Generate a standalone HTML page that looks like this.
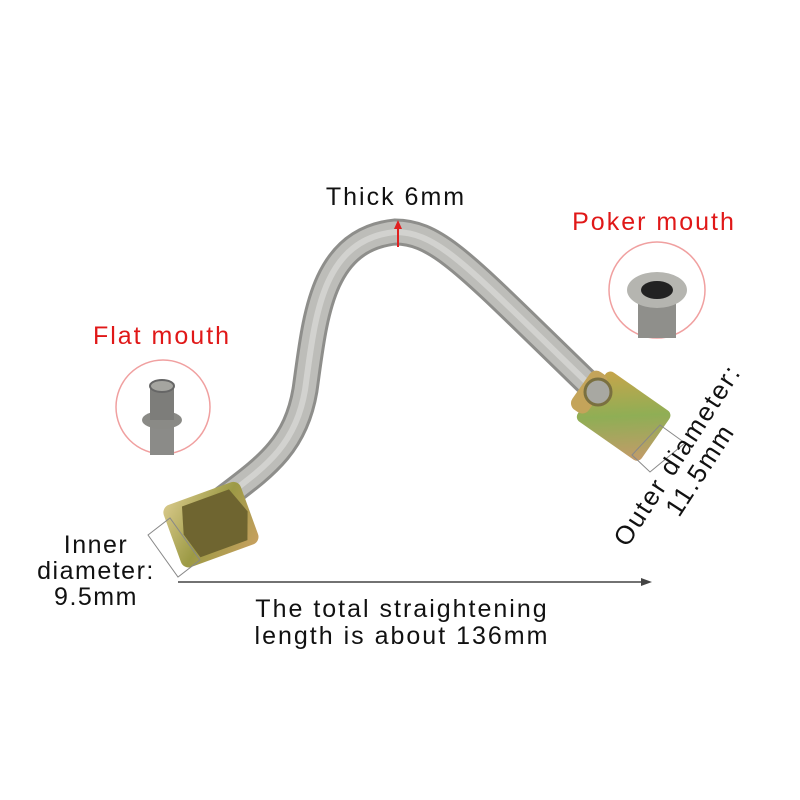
<!DOCTYPE html>
<html><head><style>
body{margin:0;background:#fff;}
svg{display:block}
text{font-family:"Liberation Sans",sans-serif;letter-spacing:2px;}
</style></head><body>
<svg width="800" height="800" viewBox="0 0 800 800">
<defs>
<linearGradient id="g1" x1="0" y1="0" x2="1" y2="1">
<stop offset="0" stop-color="#d8c98a"/><stop offset="0.5" stop-color="#9c9a45"/><stop offset="1" stop-color="#c8a060"/></linearGradient>
<linearGradient id="g2" x1="0" y1="0" x2="1" y2="1">
<stop offset="0" stop-color="#c9a44a"/><stop offset="0.5" stop-color="#8fae55"/><stop offset="1" stop-color="#c79a6a"/></linearGradient>
</defs>
<path d="M215 505 C260 470,295 450,305 390 C315 320,320 240,395 232 C440 232,470 270,600 395" fill="none" stroke="#8e8e8b" stroke-width="27"/>
<path d="M215 505 C260 470,295 450,305 390 C315 320,320 240,395 232 C440 232,470 270,600 395" fill="none" stroke="#bdbdb9" stroke-width="21"/>
<path d="M215 505 C260 470,295 450,305 390 C315 320,320 240,395 232 C440 232,470 270,600 395" fill="none" stroke="#d2d2cf" stroke-width="6"/>
<line x1="398" y1="247" x2="398" y2="228" stroke="#e02020" stroke-width="2"/>
<polygon points="398,220 394,229 402,229" fill="#e02020"/>
<g transform="rotate(-20 210 525)">
<rect x="170" y="492" width="82" height="66" rx="8" fill="url(#g1)"/>
<polygon points="190,498 240,498 250,525 240,552 190,552 182,525" fill="#6f6530"/>
</g>
<g transform="rotate(35 622 415)">
<rect x="585" y="385" width="78" height="60" rx="6" fill="url(#g2)"/>
<rect x="572" y="392" width="20" height="46" rx="8" fill="#c4a45a"/>
</g>
<circle cx="598" cy="392" r="13" fill="#a8a8a2" stroke="#7a7040" stroke-width="3"/>
<polygon points="148,535 170,518 200,560 178,577" fill="none" stroke="#888" stroke-width="1"/>
<polygon points="660,425 685,443 650,472 632,455" fill="none" stroke="#888" stroke-width="1"/>
<circle cx="163" cy="407" r="47" fill="#fff" stroke="#f0a0a0" stroke-width="1.5"/>
<rect x="150" y="395" width="24" height="60" fill="#8b8b88"/>
<ellipse cx="162" cy="420" rx="20" ry="9" fill="#8a8a86"/>
<rect x="150" y="385" width="24" height="35" fill="#7d7d7a"/>
<ellipse cx="162" cy="386" rx="12" ry="6" fill="#a5a5a0" stroke="#666" stroke-width="2"/>
<circle cx="657" cy="290" r="48" fill="#fff" stroke="#f0a0a0" stroke-width="1.5"/>
<rect x="638" y="290" width="38" height="48" fill="#8f8f8b"/>
<ellipse cx="657" cy="290" rx="30" ry="18" fill="#b5b5b0"/>
<ellipse cx="657" cy="290" rx="16" ry="9" fill="#222"/>
<line x1="178" y1="582" x2="643" y2="582" stroke="#444" stroke-width="1.5"/>
<polygon points="652,582 641,578 641,586" fill="#444"/>
<text x="396" y="205" font-size="25" text-anchor="middle" fill="#111">Thick 6mm</text>
<text x="654" y="230" font-size="25" text-anchor="middle" fill="#e01818">Poker mouth</text>
<text x="162" y="344" font-size="25" text-anchor="middle" fill="#e01818">Flat mouth</text>
<text x="96" y="553" font-size="25" text-anchor="middle" fill="#111" style="letter-spacing:1.5px">Inner</text>
<text x="96" y="579" font-size="25" text-anchor="middle" fill="#111" style="letter-spacing:1.5px">diameter:</text>
<text x="96" y="605" font-size="25" text-anchor="middle" fill="#111" style="letter-spacing:1.5px">9.5mm</text>
<text x="402" y="617" font-size="25" text-anchor="middle" fill="#111">The total straightening</text>
<text x="402" y="644" font-size="25" text-anchor="middle" fill="#111">length is about 136mm</text>
<g transform="translate(688 462) rotate(-57)">
<text x="0" y="-4" font-size="26" text-anchor="middle" fill="#111">Outer diameter:</text>
<text x="0" y="23" font-size="26" text-anchor="middle" fill="#111">11.5mm</text>
</g>
</svg>
</body></html>
